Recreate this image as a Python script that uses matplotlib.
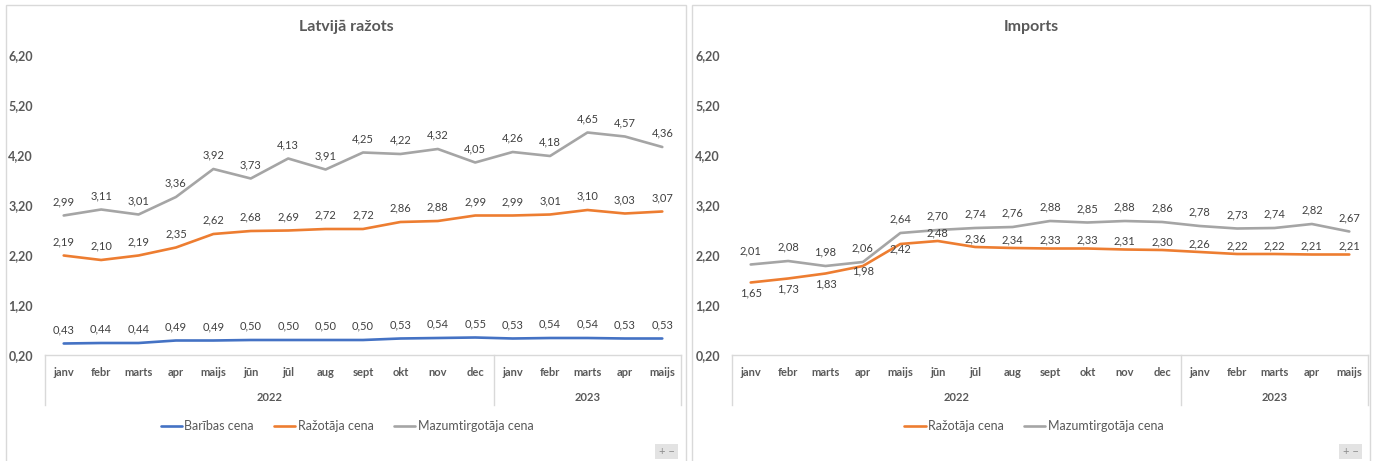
import matplotlib
matplotlib.use("Agg")
import matplotlib.pyplot as plt
from matplotlib.patches import Rectangle
from matplotlib.lines import Line2D

plt.rcParams['font.family'] = ['Lato', 'DejaVu Sans']

W, H = 1375, 461

menesi = ["janv", "febr", "marts", "apr", "maijs", "jūn", "jūl", "aug", "sept",
          "okt", "nov", "dec", "janv", "febr", "marts", "apr", "maijs"]
gadi = ["2022", "2023"]
menesi_gada = [12, 5]

# Latvijā ražots
lv_baribas = [0.43, 0.44, 0.44, 0.49, 0.49, 0.50, 0.50, 0.50, 0.50, 0.53, 0.54, 0.55,
              0.53, 0.54, 0.54, 0.53, 0.53]
lv_razotaja = [2.19, 2.10, 2.19, 2.35, 2.62, 2.68, 2.69, 2.72, 2.72, 2.86, 2.88, 2.99,
               2.99, 3.01, 3.10, 3.03, 3.07]
lv_mazumtirg = [2.99, 3.11, 3.01, 3.36, 3.92, 3.73, 4.13, 3.91, 4.25, 4.22, 4.32, 4.05,
                4.26, 4.18, 4.65, 4.57, 4.36]

# Imports
imp_razotaja = [1.65, 1.73, 1.83, 1.98, 2.42, 2.48, 2.36, 2.34, 2.33, 2.33, 2.31, 2.30,
                2.26, 2.22, 2.22, 2.21, 2.21]
imp_mazumtirg = [2.01, 2.08, 1.98, 2.06, 2.64, 2.70, 2.74, 2.76, 2.88, 2.85, 2.88, 2.86,
                 2.78, 2.73, 2.74, 2.82, 2.67]

ZILA = "#4472C4"
ORANZA = "#ED7D31"
PELEKA = "#A5A5A5"
TEKSTS = "#595959"
LINIJA = "#D9D9D9"


def px(v):
    # pikseļi -> punkti (dpi 100)
    return v * 72 / 100


def fmt(v):
    return f"{v:.2f}".replace(".", ",")


fig = plt.figure(figsize=(W / 100, H / 100), dpi=100)

# paneļu rāmji
for x0, x1 in [(6, 686), (692, 1370)]:
    fig.patches.append(Rectangle((x0 / W, -0.01), (x1 - x0) / W, 1 - 5 / H + 0.01,
                                 transform=fig.transFigure, fill=False,
                                 edgecolor=LINIJA, linewidth=1))


def panelis(ax_left, virsraksts, centrs, serijas, leg_centrs, poga_x):
    ax = fig.add_axes([ax_left / W, (H - 355) / H, 636 / W, 300 / H])
    x = list(range(len(menesi)))
    handles = []
    for vert, krasa, nos, nobides in serijas:
        ln, = ax.plot(x, vert, color=krasa, lw=1.9, solid_capstyle="round", label=nos)
        handles.append(ln)
        for i, v in enumerate(vert):
            ax.annotate(fmt(v), (i, v), xytext=(0, px(nobides[i])), textcoords="offset points",
                        ha="center", va="center", fontsize=8, color="#404040")
    ax.set_xlim(-0.5, len(menesi) - 0.5)
    ax.set_ylim(0.2, 6.2)
    ax.set_yticks([0.2, 1.2, 2.2, 3.2, 4.2, 5.2, 6.2])
    ax.set_yticklabels([fmt(t) for t in ax.get_yticks()], fontsize=9, fontweight="bold",
                       color=TEKSTS)
    ax.tick_params(axis="y", length=0, pad=px(12))
    ax.set_xticks([])
    for s in ["top", "right", "left"]:
        ax.spines[s].set_visible(False)
    ax.spines["bottom"].set_color(LINIJA)
    ax.spines["bottom"].set_linewidth(1)

    tr = ax.get_xaxis_transform()
    for i, m in enumerate(menesi):
        ax.text(i, -17 / 300, m, transform=tr, ha="center", va="center", fontsize=8,
                fontweight="bold", color=TEKSTS)
    sak = 0
    robezas = [-0.5]
    for g, n in zip(gadi, menesi_gada):
        ax.text(sak + (n - 1) / 2, -42 / 300, g, transform=tr, ha="center", va="center",
                fontsize=8, fontweight="bold", color=TEKSTS)
        sak += n
        robezas.append(sak - 0.5)
    for b in robezas:
        ax.add_line(Line2D([b, b], [0, -50 / 300], transform=tr, color=LINIJA, lw=1,
                           clip_on=False))

    fig.text(centrs / W, 1 - 27 / H, virsraksts, ha="center", va="center", fontsize=11.5,
             fontweight="bold", color=TEKSTS)
    fig.legend(handles=handles, loc="center", bbox_to_anchor=(leg_centrs / W, 1 - 426 / H),
               ncol=len(handles), frameon=False, fontsize=9, labelcolor=TEKSTS,
               handlelength=1.7, handletextpad=0.2, columnspacing=1.6)

    # "+ -" poga
    fig.patches.append(Rectangle((poga_x / W, 1 - 459 / H), 23 / W, 15 / H,
                                 transform=fig.transFigure, facecolor="#E3E3E3",
                                 edgecolor="none"))
    fig.text((poga_x + 11.5) / W, 1 - 451.5 / H, "+ \u2212", ha="center", va="center",
             fontsize=8, color="#8C8C8C")
    return ax


virs = [14] * len(menesi)
panelis(45, "Latvijā ražots", 346,
        [(lv_baribas, ZILA, "Barības cena", virs),
         (lv_razotaja, ORANZA, "Ražotāja cena", virs),
         (lv_mazumtirg, PELEKA, "Mazumtirgotāja cena", virs)],
        347, 655)

imp_raz_nobides = [-10.5, -10.5, -10.5, -5, -5] + [8.5] * 12
panelis(732, "Imports", 1031,
        [(imp_razotaja, ORANZA, "Ražotāja cena", imp_raz_nobides),
         (imp_mazumtirg, PELEKA, "Mazumtirgotāja cena", virs)],
        1034, 1339)

fig.savefig("out.png", dpi=100)
